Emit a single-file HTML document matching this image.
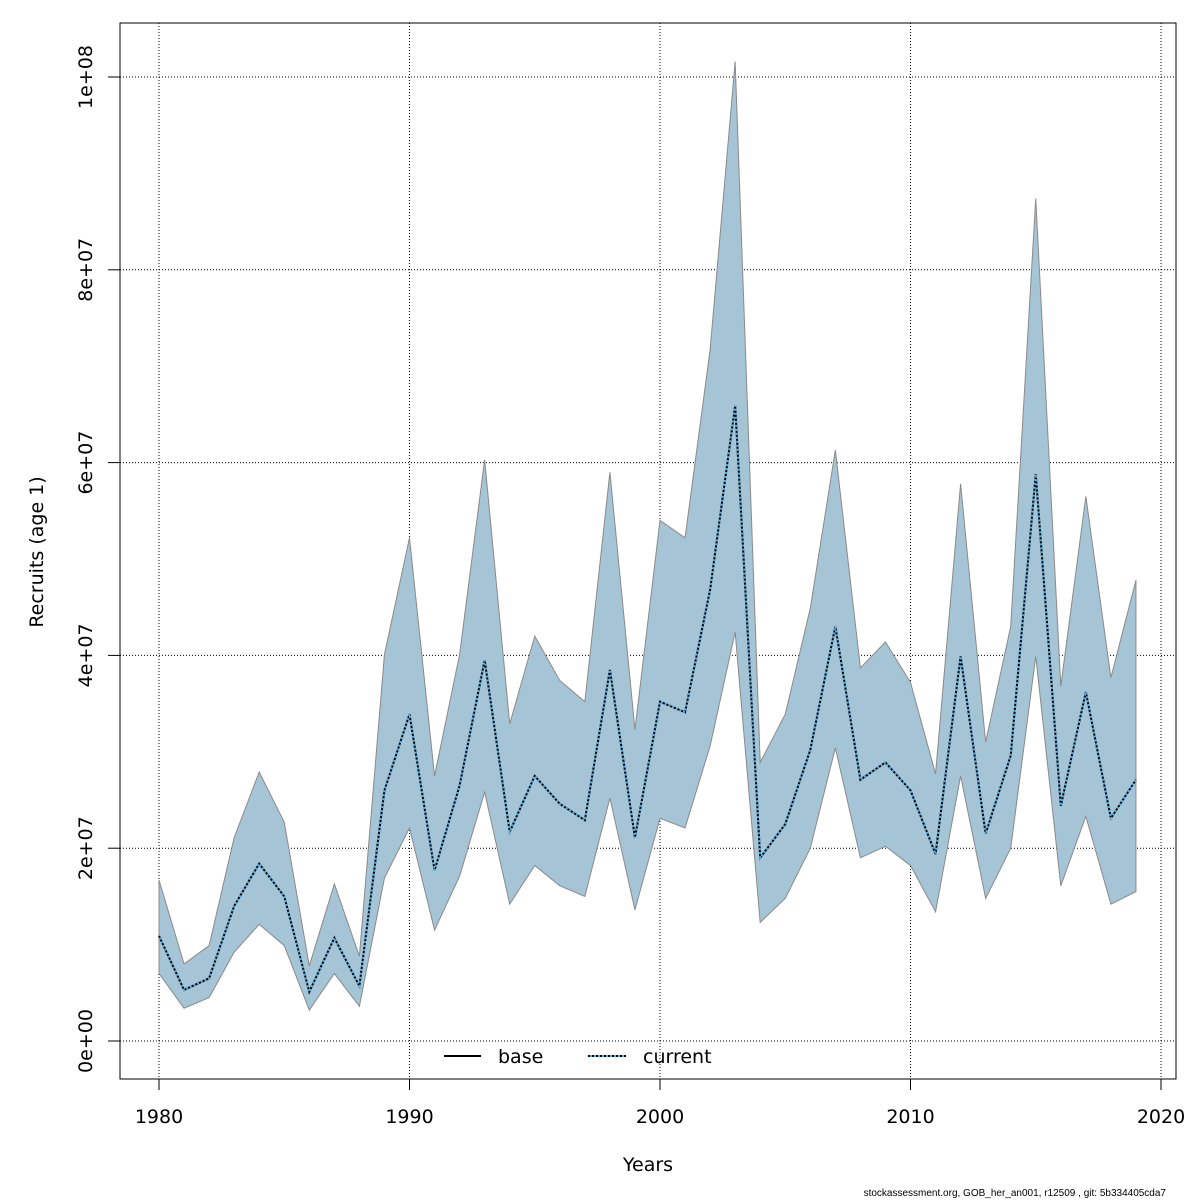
<!DOCTYPE html>
<html><head><meta charset="utf-8"><style>
html,body{margin:0;padding:0;background:#fff;}
svg{display:block;font-family:"DejaVu Sans","Liberation Sans",sans-serif;}
</style></head><body>
<svg id="chart" width="1200" height="1200" viewBox="0 0 1200 1200" xmlns="http://www.w3.org/2000/svg">
<rect x="0" y="0" width="1200" height="1200" fill="#fff"/>
<g id="grid"></g>
<g id="marks"></g>
<rect x="120" y="23" width="1056" height="1056" fill="none" stroke="#000" stroke-width="1"/>
<g id="axes"></g>
<text x="648" y="1171" font-size="19" text-anchor="middle">Years</text>
<text transform="translate(43,552) rotate(-90)" font-size="19" text-anchor="middle">Recruits (age 1)</text>
<g>
<line x1="444" y1="1056" x2="481" y2="1056" stroke="#000" stroke-width="2"/>
<text x="498" y="1063" font-size="19">base</text>
<line x1="588" y1="1056" x2="626" y2="1056" stroke="#000" stroke-width="2"/>
<line x1="588" y1="1056" x2="626" y2="1056" stroke="#56b4e9" stroke-width="2" stroke-dasharray="2,2" stroke-dashoffset="2"/>
<text x="643" y="1063" font-size="19">current</text>
</g>
<text x="1166" y="1196" font-size="10" text-anchor="end" font-family="Liberation Sans, sans-serif">stockassessment.org, GOB_her_an001, r12509 , git: 5b334405cda7</text>
</svg>
<script>
const years = [];
for (let y = 1980; y <= 2019; y++) years.push(y);
const estimate = [10.9,5.3,6.5,14.0,18.4,15.0,5.1,10.7,5.7,26.0,33.9,17.7,26.5,39.5,21.7,27.5,24.6,22.9,38.5,21.1,35.2,34.1,46.8,65.9,19.0,22.5,30.2,43.0,27.1,28.9,26.0,19.4,39.9,21.5,29.6,58.8,24.4,36.2,23.1,27.1];
const upper = [16.7,8.0,9.9,21.1,27.9,22.7,7.8,16.3,8.8,40.1,52.2,27.5,40.1,60.3,32.9,42.0,37.4,35.2,59.0,32.3,54.0,52.2,71.7,101.6,28.9,33.9,44.9,61.3,38.7,41.4,37.2,27.7,57.8,31.0,43.0,87.4,36.8,56.5,37.7,47.8];
const lower = [7.0,3.4,4.5,9.2,12.1,9.9,3.2,7.0,3.6,16.9,22.1,11.5,17.1,25.8,14.2,18.2,16.1,15.0,25.2,13.6,23.1,22.1,30.6,42.4,12.3,14.8,20.0,30.4,19.0,20.2,18.2,13.4,27.5,14.8,20.0,39.9,16.1,23.3,14.2,15.5];
const xTicks = [1980,1990,2000,2010,2020];
const yTicks = [0,20,40,60,80,100];
const yTickLabels = ["0e+00","2e+07","4e+07","6e+07","8e+07","1e+08"];

const X = v => 159 + (v - 1980) * (1161 - 159) / 40;
const Y = v => 1041 - v * (1041 - 77) / 100;
const NS = "http://www.w3.org/2000/svg";
function mk(tag, attrs, parent) {
  const e = document.createElementNS(NS, tag);
  for (const k in attrs) e.setAttribute(k, attrs[k]);
  parent.appendChild(e); return e;
}
const grid = document.getElementById('grid');
const axes = document.getElementById('axes');
const marks = document.getElementById('marks');

xTicks.forEach(t => {
  const g = mk('line', {x1:X(t), x2:X(t), y1:23, y2:1079, stroke:'#000', 'stroke-width':1, 'stroke-dasharray':'1,2'}, grid);
  
  
  const tk = mk('line', {x1:X(t), x2:X(t), y1:1079, y2:1090, stroke:'#000'}, axes);
  
  
  const tx = mk('text', {x:X(t), y:1123, 'font-size':19, 'text-anchor':'middle'}, axes);
  tx.textContent = t;
  
  
});
yTicks.forEach((t, i) => {
  const g = mk('line', {x1:120, x2:1176, y1:Y(t), y2:Y(t), stroke:'#000', 'stroke-width':1, 'stroke-dasharray':'1,2'}, grid);
  
  
  const tk = mk('line', {x1:108, x2:120, y1:Y(t), y2:Y(t), stroke:'#000'}, axes);
  
  
  const tx = mk('text', {transform:`translate(92,${Y(t)}) rotate(-90)`, 'font-size':19, 'text-anchor':'middle'}, axes);
  tx.textContent = yTickLabels[i];
  
  
});

let pts = years.map((y, i) => X(y) + ',' + Y(upper[i]));
for (let i = years.length - 1; i >= 0; i--) pts.push(X(years[i]) + ',' + Y(lower[i]));
const band = mk('polygon', {points: pts.join(' '), fill:'#a5c4d5', stroke:'#8a8a8a', 'stroke-width':1}, marks);



const lp = years.map((y, i) => X(y) + ',' + Y(estimate[i])).join(' ');
const base = mk('polyline', {points: lp, fill:'none', stroke:'#000', 'stroke-width':2}, marks);


const cur = mk('polyline', {points: lp, fill:'none', stroke:'#56b4e9', 'stroke-width':2, 'stroke-dasharray':'2,2', 'stroke-dashoffset':'2'}, marks);


</script>
</body></html>
